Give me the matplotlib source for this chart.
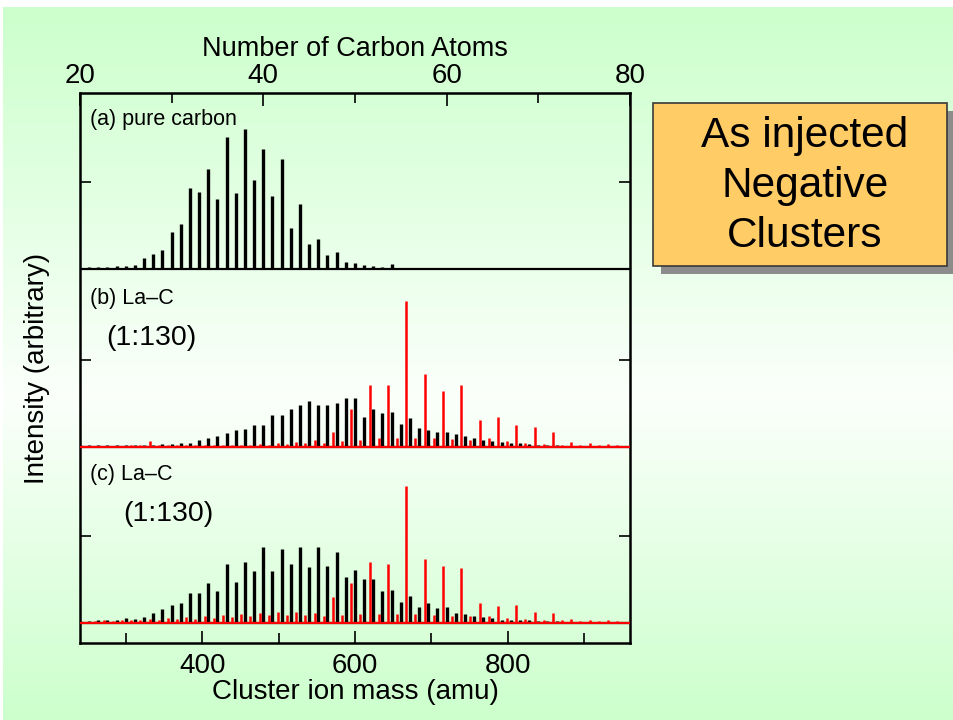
"""
Mass spectra of negative carbon / La-C clusters (as injected)
"""
import numpy as np
import matplotlib.pyplot as plt
from matplotlib.patches import Rectangle
from matplotlib.colors import LinearSegmentedColormap

plt.rcParams['font.family'] = ['Liberation Sans', 'DejaVu Sans']

m_c = 12.0
m_la = 139.0

# (a) pure carbon, C_n^-  (heights in units of one y tick)
n_a = np.arange(21, 55)
h_a = [0.02, 0.02, 0.02, 0.03, 0.03, 0.04, 0.12, 0.17, 0.22, 0.42,
       0.51, 0.93, 0.88, 1.15, 0.80, 1.51, 0.87, 1.61, 1.02, 1.38,
       0.84, 1.26, 0.47, 0.75, 0.28, 0.34, 0.16, 0.19, 0.08, 0.07,
       0.04, 0.03, 0.02, 0.05]

# (b) La-C 1:130, C_n^- (black) and LaC_n^- (red)
n_b_black = np.arange(20, 73)
h_b_black = [0.03, 0.02, 0.02, 0.03, 0.02, 0.03, 0.03, 0.03, 0.03, 0.04,
             0.04, 0.05, 0.05, 0.08, 0.10, 0.13, 0.16, 0.20, 0.21, 0.26,
             0.25, 0.37, 0.37, 0.44, 0.49, 0.53, 0.48, 0.49, 0.51, 0.57,
             0.56, 0.35, 0.44, 0.39, 0.41, 0.27, 0.34, 0.22, 0.20, 0.18,
             0.18, 0.15, 0.13, 0.10, 0.08, 0.07, 0.06, 0.05, 0.05, 0.04,
             0.03, 0.03, 0.02]
n_b_red = np.arange(14, 68)
h_b_red = [0.02, 0.02, 0.07, 0.02, 0.03, 0.02, 0.03, 0.02, 0.03, 0.02,
           0.03, 0.02, 0.03, 0.03, 0.04, 0.03, 0.05, 0.04, 0.06, 0.05,
           0.08, 0.05, 0.18, 0.07, 0.44, 0.08, 0.71, 0.10, 0.71, 0.10,
           1.68, 0.10, 0.84, 0.10, 0.64, 0.09, 0.71, 0.08, 0.31, 0.10,
           0.35, 0.07, 0.26, 0.05, 0.23, 0.04, 0.17, 0.03, 0.06, 0.02,
           0.05, 0.02, 0.04, 0.02]

# (c) La-C 1:130
n_c_black = np.arange(20, 73)
h_c_black = [0.02, 0.02, 0.03, 0.03, 0.04, 0.06, 0.05, 0.07, 0.11, 0.16,
             0.21, 0.23, 0.35, 0.34, 0.46, 0.37, 0.68, 0.47, 0.70, 0.60,
             0.87, 0.60, 0.85, 0.68, 0.87, 0.64, 0.87, 0.66, 0.82, 0.53,
             0.61, 0.50, 0.50, 0.37, 0.38, 0.24, 0.31, 0.18, 0.23, 0.17,
             0.18, 0.11, 0.10, 0.08, 0.07, 0.06, 0.04, 0.04, 0.03, 0.03,
             0.02, 0.02, 0.02]
n_c_red = np.arange(10, 68)
h_c_red = [0.02, 0.03, 0.02, 0.03, 0.03, 0.04, 0.05, 0.04, 0.06, 0.05,
           0.07, 0.05, 0.08, 0.06, 0.09, 0.07, 0.10, 0.08, 0.12, 0.09,
           0.13, 0.09, 0.13, 0.09, 0.12, 0.08, 0.30, 0.09, 0.46, 0.10,
           0.70, 0.10, 0.68, 0.10, 1.57, 0.10, 0.73, 0.09, 0.66, 0.08,
           0.63, 0.08, 0.23, 0.08, 0.20, 0.06, 0.21, 0.05, 0.13, 0.04,
           0.11, 0.03, 0.05, 0.02, 0.04, 0.02, 0.03, 0.02]

panel_labels = ["(a) pure carbon", "(b) La\u2013C", "(c) La\u2013C"]
ratio_labels = ["", "(1:130)", "(1:130)"]
v_offset = [4.30, 2.25, 0.23]   # baseline of each panel

fig = plt.figure(figsize=(9.54, 7.2), dpi=100)

# slide background: white rim, green gradient
ax_bg = fig.add_axes([0, 0, 1, 1], zorder=-10)
cmap_bg = LinearSegmentedColormap.from_list(
    "bg", [(0.0, "#ccffcc"), (0.55, "#fbfffb"), (1.0, "#ccffcc")])
grad = np.linspace(0, 1, 256)[:, None]
ax_bg.imshow(grad, cmap=cmap_bg, aspect='auto', extent=[3, 954, 720, 7])
ax_bg.set_xlim(0, 954)
ax_bg.set_ylim(720, 0)
ax_bg.axis('off')

ax = fig.add_axes([80/954, 77/720, 550/954, 550/720])
ax.patch.set_alpha(0)

m_min, m_max = 240, 960
for off, n_k, h_k in [(v_offset[0], n_a, h_a),
                      (v_offset[1], n_b_black, h_b_black),
                      (v_offset[2], n_c_black, h_c_black)]:
    ax.plot([m_min, m_max], [off, off], color='black', lw=1.6, zorder=2)
    ax.vlines(m_c*n_k, off, off + np.array(h_k), color='black', lw=2.4, zorder=2)

for off, n_k, h_k in [(v_offset[1], n_b_red, h_b_red),
                      (v_offset[2], n_c_red, h_c_red)]:
    ax.plot([m_min, m_max], [off, off], color='#ff0000', lw=1.6, zorder=3)
    ax.vlines(m_la + m_c*n_k, off, off + np.array(h_k), color='#ff0000', lw=1.8, zorder=3)

ax.set_xlim(m_min, m_max)
ax.set_ylim(0, 6.32)
ax.set_xticks([400, 600, 800])
ax.set_xticks([300, 500, 700, 900], minor=True)
ax.set_yticks([o + 1 for o in v_offset])
ax.set_yticklabels([])
ax.tick_params(axis='x', direction='in', length=9, width=1.2, labelsize=20, pad=7)
ax.tick_params(axis='x', which='minor', direction='in', length=7, width=1.2)
ax.tick_params(axis='y', direction='in', length=8, width=1.2, right=True)
for sp in ax.spines.values():
    sp.set_linewidth(1.8)
ax.set_xlabel("Cluster ion mass (amu)", fontsize=20, labelpad=0)
ax.set_ylabel("Intensity (arbitrary)", fontsize=20, labelpad=18)

ax_top = ax.secondary_xaxis('top', functions=(lambda m: m/m_c, lambda n: n*m_c))
ax_top.set_xticks([20, 40, 60, 80])
ax_top.set_xticks([30, 50, 70], minor=True)
ax_top.tick_params(axis='x', direction='in', length=9, width=1.2, labelsize=20, pad=3)
ax_top.tick_params(axis='x', which='minor', direction='in', length=7, width=1.2)
ax_top.set_xlabel("Number of Carbon Atoms", fontsize=19.5, labelpad=5)

for idx, off in enumerate(v_offset):
    ax.text(253, off + 1.71, panel_labels[idx], fontsize=15.5, va='center', ha='left')
    if ratio_labels[idx]:
        dx = 275 if idx == 1 else 296
        ax.text(dx, off + 1.25, ratio_labels[idx], fontsize=20.5, va='center', ha='left')

# label box with drop shadow (pixel coords of the background axes)
ax_bg.add_patch(Rectangle((661, 111), 294, 163, facecolor='#8c8c8c', edgecolor='none'))
ax_bg.add_patch(Rectangle((653, 103), 294, 163, facecolor='#ffcc66',
                          edgecolor='#3a3a3a', lw=1.2))
for idx, s in enumerate(["As injected", "Negative", "Clusters"]):
    ax_bg.text(805, 136 + 50*idx, s, fontsize=30.5, ha='center', va='center')

fig.savefig("out.png", dpi=100)
